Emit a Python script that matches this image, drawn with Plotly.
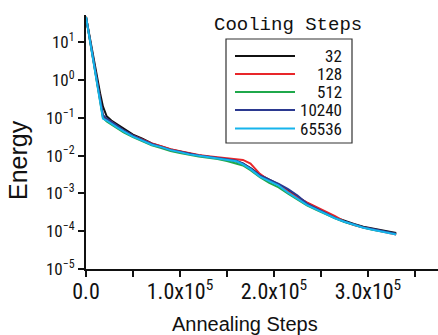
import plotly.graph_objects as go

# ---- data ----
steps = [0, 5e3, 10e3, 15e3, 18e3, 22e3, 27e3, 33e3, 40e3, 50e3, 60e3, 70e3, 80e3, 90e3,
         100e3, 110e3, 120e3, 130e3, 140e3, 150e3, 160e3, 167e3, 175e3, 185e3, 195e3,
         205e3, 215e3, 225e3, 235e3, 245e3, 255e3, 265e3, 275e3, 285e3, 295e3, 305e3,
         315e3, 325e3, 330e3]

energy_32 = [47, 9.5, 2.2, 0.45, 0.2, 0.11, 0.085, 0.068, 0.05, 0.036, 0.028, 0.021, 0.0175,
             0.0145, 0.0128, 0.0112, 0.0101, 0.0094, 0.0087, 0.0080, 0.0070, 0.0061, 0.0047,
             0.0031, 0.0023, 0.0017, 0.00118, 8.2e-4, 5.6e-4, 4.2e-4, 3.0e-4, 2.3e-4, 1.85e-4,
             1.55e-4, 1.32e-4, 1.17e-4, 1.06e-4, 9.4e-5, 9.0e-5]
energy_128 = [47, 8.8, 1.7, 0.3, 0.11, 0.09, 0.078, 0.06, 0.046, 0.034, 0.027, 0.021, 0.0178,
              0.0147, 0.013, 0.0114, 0.0104, 0.0097, 0.0091, 0.0084, 0.0079, 0.0077, 0.0062,
              0.0033, 0.0022, 0.0017, 0.00112, 7.8e-4, 5.8e-4, 4.4e-4, 3.3e-4, 2.5e-4, 1.8e-4,
              1.45e-4, 1.25e-4, 1.1e-4, 9.6e-5, 8.4e-5, 8.2e-5]
energy_512 = [47, 8.3, 1.45, 0.25, 0.1, 0.08, 0.066, 0.052, 0.041, 0.031, 0.024, 0.0188, 0.016,
              0.0132, 0.0118, 0.0104, 0.0095, 0.0088, 0.0082, 0.0072, 0.0063, 0.0055, 0.0041,
              0.0027, 0.0019, 0.00145, 9.8e-4, 6.8e-4, 4.8e-4, 3.7e-4, 2.8e-4, 2.2e-4, 1.75e-4,
              1.45e-4, 1.25e-4, 1.1e-4, 9.8e-5, 8.8e-5, 8.5e-5]
energy_10240 = [47, 8.6, 1.6, 0.3, 0.12, 0.095, 0.08, 0.062, 0.047, 0.034, 0.026, 0.0205, 0.017,
                0.0142, 0.0127, 0.0111, 0.0101, 0.0094, 0.0088, 0.008, 0.0073, 0.0062, 0.0046,
                0.003, 0.0023, 0.0018, 0.0013, 8.8e-4, 5.4e-4, 4.0e-4, 2.9e-4, 2.25e-4, 1.8e-4,
                1.5e-4, 1.28e-4, 1.14e-4, 1.03e-4, 9.0e-5, 8.6e-5]
energy_65536 = [47, 8.0, 1.4, 0.22, 0.095, 0.085, 0.072, 0.056, 0.044, 0.032, 0.025, 0.0195,
                0.0168, 0.014, 0.0124, 0.0108, 0.0099, 0.0092, 0.0086, 0.0078, 0.0071, 0.0059,
                0.0044, 0.0028, 0.0021, 0.0016, 0.00105, 7.2e-4, 5.0e-4, 3.8e-4, 2.85e-4, 2.2e-4,
                1.78e-4, 1.48e-4, 1.24e-4, 1.1e-4, 9.8e-5, 8.5e-5, 8.2e-5]

series_names = ["32", "128", "512", "10240", "65536"]
series_values = [energy_32, energy_128, energy_512, energy_10240, energy_65536]
series_colors = ["#111111", "#e8262a", "#1fa84b", "#2b3990", "#16b4ec"]

x_tick_vals = [0, 1e5, 2e5, 3e5]
x_tick_text = ["0.0", "1.0x10<sup>5</sup>", "2.0x10<sup>5</sup>", "3.0x10<sup>5</sup>"]
y_tick_vals = [1e-5, 1e-4, 1e-3, 1e-2, 1e-1, 1e0, 1e1]
y_tick_text = ["10<sup>\u22125</sup>", "10<sup>\u22124</sup>", "10<sup>\u22123</sup>",
               "10<sup>\u22122</sup>", "10<sup>\u22121</sup>", "10<sup>0</sup>", "10<sup>1</sup>"]

NARROW = "Liberation Sans Narrow, Arial Narrow, Roboto Condensed, sans-serif"
MONO = "Liberation Mono, DejaVu Sans Mono, monospace"

fig = go.Figure()
for name, vals, col in zip(series_names, series_values, series_colors):
    fig.add_trace(go.Scatter(x=steps, y=vals, mode="lines", name=name,
                             line=dict(color=col, width=2), showlegend=False))

W, H = 438, 335
L, R, T, B = 86, 0, 15, 66
pw, ph = W - L - R, H - T - B

def px(x):
    return (x - L) / pw

def py(y):
    return (H - B - y) / ph

shapes = [dict(type="rect", xref="paper", yref="paper", x0=px(226), x1=px(352),
               y0=py(143), y1=py(39), line=dict(color="#333333", width=1.2),
               fillcolor="white", layer="above")]
annotations = []
row_y = [56, 74, 92, 110, 128.5]
for name, col, ry in zip(series_names, series_colors, row_y):
    shapes.append(dict(type="line", xref="paper", yref="paper", x0=px(235), x1=px(295),
                       y0=py(ry), y1=py(ry), line=dict(color=col, width=2), layer="above"))
    annotations.append(dict(text=name, xref="paper", yref="paper", x=px(344), y=py(ry),
                            xanchor="right", yanchor="middle", showarrow=False,
                            font=dict(family=NARROW, size=17, color="#111111")))
annotations.append(dict(text="Cooling Steps", xref="paper", yref="paper", x=px(288), y=py(25),
                        xanchor="center", yanchor="middle", showarrow=False,
                        font=dict(family=MONO, size=19, color="#111111")))
annotations.append(dict(text="Annealing Steps", xref="paper", yref="paper", x=px(245), y=py(324),
                        xanchor="center", yanchor="middle", showarrow=False,
                        font=dict(family="Liberation Sans, Arial, sans-serif", size=20, color="#111111")))
annotations.append(dict(text="Energy", xref="paper", yref="paper", x=px(18), y=py(160),
                        xanchor="center", yanchor="middle", showarrow=False, textangle=-90,
                        font=dict(family="Liberation Sans, Arial, sans-serif", size=25, color="#111111")))

fig.update_layout(
    width=W, height=H,
    margin=dict(l=L, r=R, t=T, b=B),
    paper_bgcolor="white", plot_bgcolor="white",
    shapes=shapes, annotations=annotations,
    xaxis=dict(range=[0, 3.745e5], tickvals=x_tick_vals, ticktext=x_tick_text,
               showline=True, linecolor="#111111", linewidth=2, ticks="outside",
               ticklen=6, tickwidth=2, tickcolor="#111111", showgrid=False, zeroline=False,
               ticklabelstandoff=-4,
               tickfont=dict(family=NARROW, size=22, color="#111111"),
               minor=dict(dtick=5e4, tick0=0, ticks="outside", ticklen=6, tickwidth=2,
                          tickcolor="#111111", showgrid=False)),
    yaxis=dict(type="log", range=[-5, 1.722], tickvals=y_tick_vals, ticktext=y_tick_text,
               showline=True, linecolor="#111111", linewidth=2, ticks="outside",
               ticklen=6, tickwidth=2, tickcolor="#111111", showgrid=False, zeroline=False,
               tickfont=dict(family=NARROW, size=17, color="#111111")),
)

fig.write_html("out.html", config={"displayModeBar": False},
               post_script="document.body.style.margin='0';document.body.style.overflow='hidden';")
